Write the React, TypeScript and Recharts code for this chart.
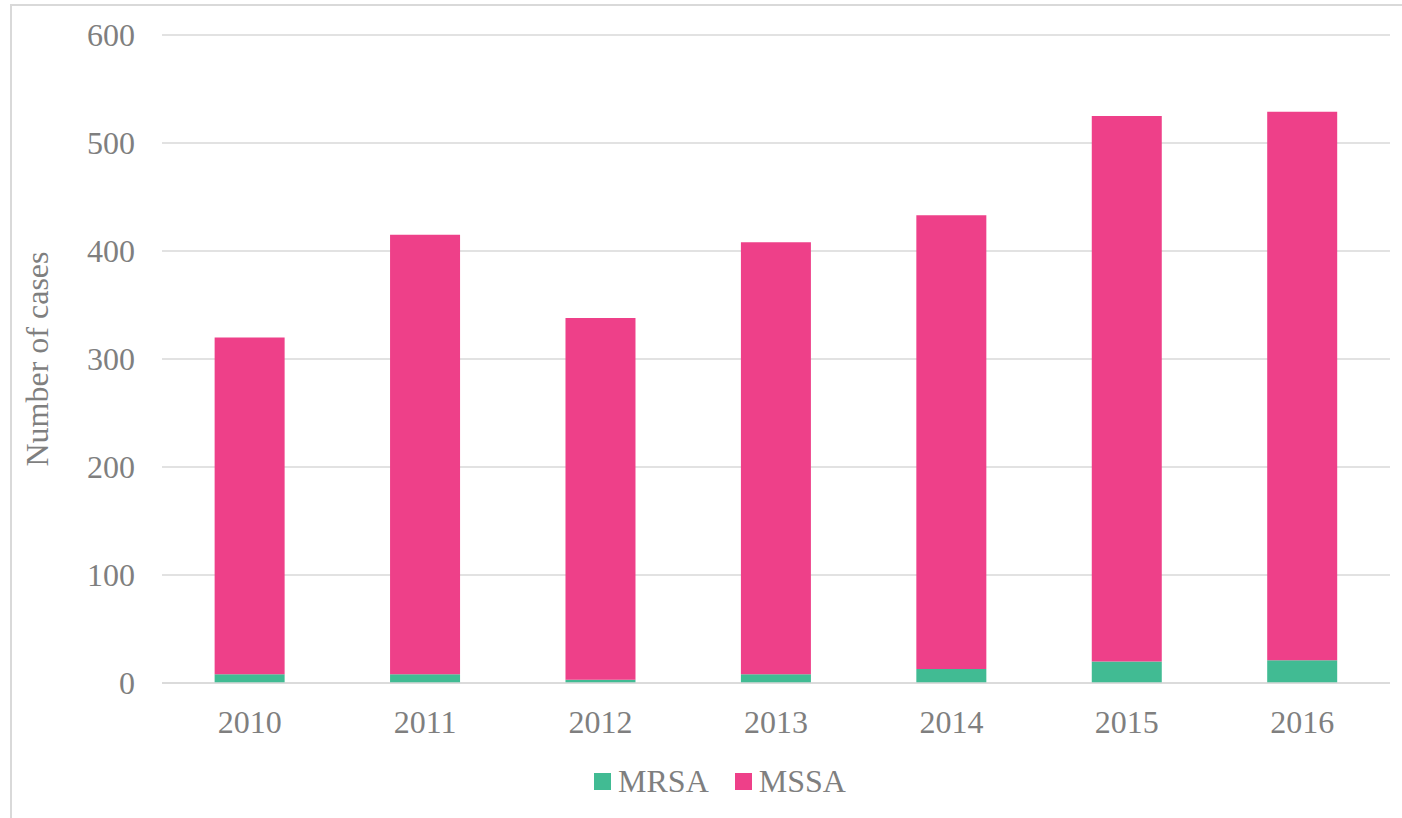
import { BarChart, Bar, XAxis, YAxis, CartesianGrid, Legend } from 'recharts';

const years = ['2010', '2011', '2012', '2013', '2014', '2015', '2016'];
const mrsa = [8, 8, 3, 8, 13, 20, 21];
const mssa = [312, 407, 335, 400, 420, 505, 508];
const yTicks = [0, 100, 200, 300, 400, 500, 600];

const data = years.map((year, i) => ({ year, MRSA: mrsa[i], MSSA: mssa[i] }));

const font = '"Liberation Serif", "Times New Roman", serif';
const textColor = '#7f7f7f';
const gridColor = '#d9d9d9';
const fontSize = 32;

function LegendRow({ payload }: any) {
  return (
    <div style={{ display: 'flex', justifyContent: 'center', alignItems: 'center', gap: 26, height: 40, paddingLeft: 50 }}>
      {(payload ?? []).map((entry: any) => (
        <div key={entry.value} style={{ display: 'flex', alignItems: 'center', gap: 7 }}>
          <span style={{ width: 17, height: 17, background: entry.color, display: 'inline-block' }} />
          <span style={{ color: textColor, fontSize, fontFamily: font, lineHeight: '40px' }}>{entry.value}</span>
        </div>
      ))}
    </div>
  );
}

export default function App() {
  return (
    <div style={{ position: 'absolute', left: 0, top: 0, width: 1402, height: 818, overflow: 'hidden', background: '#fff', fontFamily: font }}>
      <div style={{ position: 'absolute', left: 10, top: 4, width: 1420, height: 840, border: `2px solid ${gridColor}`, boxSizing: 'border-box' }} />
      <BarChart
        width={1402}
        height={818}
        data={data}
        barCategoryGap="30%"
        margin={{ top: 35, right: 12, bottom: 5, left: 0 }}
        style={{ position: 'absolute', left: 0, top: 0 }}
      >
        <CartesianGrid vertical={false} stroke={gridColor} strokeWidth={1.5} />
        <XAxis
          dataKey="year"
          height={90}
          tickLine={false}
          tickSize={0}
          tickMargin={27}
          axisLine={{ stroke: gridColor, strokeWidth: 1.5 }}
          tick={{ fill: textColor, fontSize, fontFamily: font }}
        />
        <YAxis
          width={162}
          domain={[0, 600]}
          ticks={yTicks}
          tickLine={false}
          axisLine={false}
          tickSize={0}
          tickMargin={27}
          tick={{ fill: textColor, fontSize, fontFamily: font }}
          label={{
            value: 'Number of cases',
            angle: -90,
            position: 'insideLeft',
            offset: 37,
            style: { textAnchor: 'middle', fill: textColor, fontSize, fontFamily: font },
          }}
        />
        <Legend
          verticalAlign="bottom"
          height={40}
          content={LegendRow}
          wrapperStyle={{ bottom: 17 }}
        />
        <Bar dataKey="MRSA" stackId="a" fill="#41bb93" isAnimationActive={false} />
        <Bar dataKey="MSSA" stackId="a" fill="#ee4089" isAnimationActive={false} />
      </BarChart>
    </div>
  );
}
